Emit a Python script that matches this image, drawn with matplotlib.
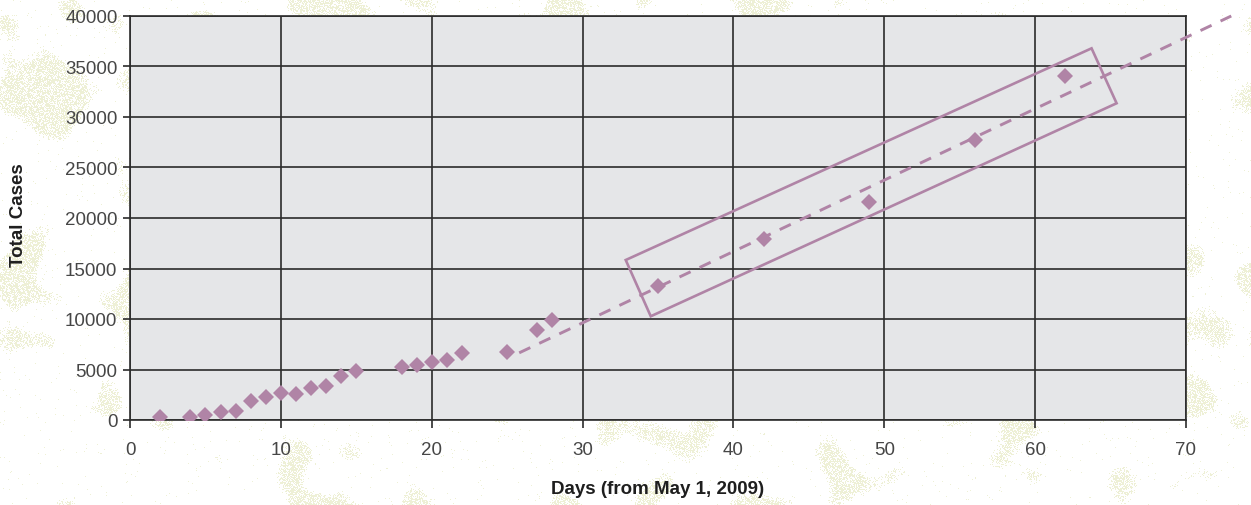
import numpy as np
import matplotlib
matplotlib.use("Agg")
import matplotlib.pyplot as plt
from matplotlib.patches import Polygon

# Cumulative confirmed cases by day (day 0 = May 1, 2009)
days = [2, 4, 5, 6, 7, 8, 9, 10, 11, 12, 13, 14, 15,
        18, 19, 20, 21, 22, 25, 27, 28, 35, 42, 49, 56, 62]
cases = [270, 270, 500, 760, 890, 1880, 2240, 2640, 2570, 3130, 3330, 4390, 4820,
         5210, 5480, 5710, 5970, 6630, 6760, 8940, 9940, 13300, 17920, 21620, 27770, 34070]

# Linear trend through the later, weekly counts
trend_days = [25.8, 73.0]
trend_cases = [6650, 40000]

# Highlight box around the weekly points (corners in data units)
box_days = [32.86, 34.52, 65.40, 63.74]
box_cases = [15840, 10270, 31360, 36800]

x_ticks = [0, 10, 20, 30, 40, 50, 60, 70]
y_ticks = [0, 5000, 10000, 15000, 20000, 25000, 30000, 35000, 40000]

mauve = "#b084a6"
grid_col = "#2b2b2b"
text_col = "#464646"

plt.rcParams["font.family"] = ["Liberation Sans", "DejaVu Sans"]

fig = plt.figure(figsize=(12.51, 5.06), dpi=100)
fig.patch.set_facecolor("white")

# faint parchment speckle behind the chart: smooth blotches filled with grain
bg = fig.add_axes([0, 0, 1, 1], zorder=-10)
rng = np.random.default_rng(21)
h, w = 506, 1251
noise = rng.standard_normal((h, w))
fy = np.fft.fftfreq(h)[:, None]
fx = np.fft.fftfreq(w)[None, :]
lowpass = np.exp(-(fx ** 2 + fy ** 2) / (2 * 0.012 ** 2))
field = np.real(np.fft.ifft2(np.fft.fft2(noise) * lowpass))
field = (field - field.mean()) / field.std()
grain = rng.random((h, w))
mask = ((field > 0.7) & (grain < np.clip((field - 0.7) * 0.9, 0, 0.6))) | (grain < 0.006)
img = np.ones((h, w, 3))
img[mask] = np.array([0.935, 0.945, 0.84])
bg.imshow(img, aspect="auto", interpolation="nearest", extent=[0, 1, 0, 1])
bg.axis("off")

ax = fig.add_axes([130 / 1251, 85 / 506, 1056 / 1251, 404 / 506])
ax.set_facecolor("#e5e6e8")
ax.set_xlim(0, 70)
ax.set_ylim(0, 40000)
ax.set_xticks(x_ticks)
ax.set_yticks(y_ticks)
ax.grid(True, color=grid_col, linewidth=1.2, zorder=1)
ax.set_axisbelow(True)
for s in ax.spines.values():
    s.set_color(grid_col)
    s.set_linewidth(1.2)
ax.tick_params(axis="x", direction="out", length=6, width=1.2, color=grid_col,
               pad=9, labelsize=13.5, labelcolor=text_col)
ax.tick_params(axis="y", direction="out", length=5, width=1.2, color=grid_col,
               pad=4, labelsize=13.5, labelcolor=text_col)

ax.plot(trend_days, trend_cases, color=mauve, linewidth=2.1,
        linestyle=(0, (4.2, 3.4)), clip_on=False, zorder=3)

box = Polygon(list(zip(box_days, box_cases)), closed=True, fill=False,
              edgecolor=mauve, linewidth=1.9, zorder=3)
ax.add_patch(box)

ax.plot(days, cases, linestyle="none", marker="D", markersize=8.4,
        color=mauve, markeredgewidth=0, zorder=4)

fig.text(0.5 * (540 + 776) / 1251, 1 - 490 / 506, "Days (from May 1, 2009)",
         ha="center", va="center", fontsize=13.5, fontweight="bold", color="#1e1e1e")
fig.text(19 / 1251, 1 - 215 / 506, "Total Cases", rotation=90,
         ha="center", va="center", fontsize=13.5, fontweight="bold", color="#1e1e1e")

fig.savefig("out.png", dpi=100)
